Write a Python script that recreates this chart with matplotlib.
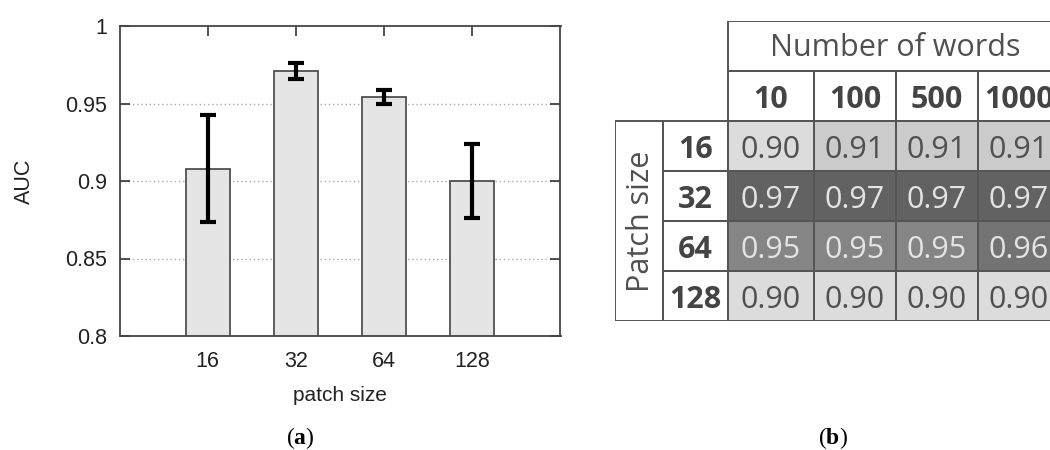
import matplotlib
matplotlib.use("Agg")
import matplotlib.pyplot as plt
import numpy as np
from matplotlib.colors import LinearSegmentedColormap
from matplotlib.patches import Rectangle

# ---- data -------------------------------------------------------------
patch_labels = ["16", "32", "64", "128"]
auc_mean = [0.908, 0.971, 0.954, 0.900]
auc_err = [0.0345, 0.005, 0.0045, 0.0237]

word_counts = ["10", "100", "500", "1000"]
auc_table = np.array([
    [0.90, 0.91, 0.91, 0.91],
    [0.97, 0.97, 0.97, 0.97],
    [0.95, 0.95, 0.95, 0.96],
    [0.90, 0.90, 0.90, 0.90],
])

plt.rcParams["font.family"] = "Liberation Sans"
plt.rcParams["mathtext.fontset"] = "custom"
plt.rcParams["mathtext.rm"] = "Liberation Serif"
plt.rcParams["mathtext.bf"] = "Liberation Serif:bold"

W, H = 1050, 450
fig = plt.figure(figsize=(W / 100, H / 100), dpi=100)

# ---- (a) bar chart with error bars -----------------------------------
ax = fig.add_axes([119.5 / W, 1 - 336 / H, 441 / W, 310 / H])
x = np.arange(1, len(patch_labels) + 1)
ax.bar(x, auc_mean, width=0.5, color="#e5e5e5", edgecolor="#505050",
       linewidth=1.3, zorder=2)
ax.errorbar(x, auc_mean, yerr=auc_err, fmt="none", ecolor="black",
            elinewidth=3, capsize=6, capthick=3, zorder=3)
ax.set_xlim(0, 5)
ax.set_ylim(0.8, 1.0)
ax.set_yticks([0.8, 0.85, 0.9, 0.95, 1.0])
ax.set_yticklabels(["0.8", "0.85", "0.9", "0.95", "1"])
ax.set_xticks(x)
ax.set_xticklabels(patch_labels)
for yv in [0.85, 0.9, 0.95]:
    ax.axhline(yv, color="#aaaaaa", linestyle=(0, (1, 2)), linewidth=1.0,
               zorder=1)
ax.tick_params(axis="y", direction="in", length=7.5, width=1.2,
               color="#333333", left=True, right=True, pad=9,
               labelsize=15.5, labelcolor="#222222")
ax.tick_params(axis="x", direction="in", length=7, width=1.2,
               color="#333333", bottom=False, top=True, labelbottom=True,
               pad=11, labelsize=15.5, labelcolor="#222222")
for s in ax.spines.values():
    s.set_color("#444444")
    s.set_linewidth(1.3)
ax.set_xlabel("patch size", fontsize=15, color="#222222", labelpad=10)
ax.set_ylabel("AUC", fontsize=15.5, color="#222222", labelpad=22)

# ---- (b) table of AUC by patch size and vocabulary size --------------
ob = "Open Sans"
tx0, ty0 = 615, 21
tw, th = 445, 300
tax = fig.add_axes([tx0 / W, 1 - (ty0 + th) / H, tw / W, th / H])
tax.set_xlim(0, tw)
tax.set_ylim(th, 0)
tax.axis("off")

col_edges = np.array([113, 199, 281, 363, 445])
row_edges = np.array([100, 150, 200, 250, 300])
cmap = LinearSegmentedColormap.from_list("g", ["#dcdcdc", "#626262"])
line_c = "#555555"
lw = 1.4
dy = 4  # optical centring of digits
tax.pcolormesh(col_edges, row_edges, auc_table, cmap=cmap, vmin=0.90,
               vmax=0.97, edgecolors=line_c, linewidth=lw)

for i in range(auc_table.shape[0]):
    for j in range(auc_table.shape[1]):
        v = auc_table[i, j]
        cx = (col_edges[j] + col_edges[j + 1]) / 2
        cy = (row_edges[i] + row_edges[i + 1]) / 2
        tax.text(cx, cy + dy, f"{v:.2f}", ha="center", va="center",
                 fontsize=22, family=ob,
                 color="#e4e4e4" if v >= 0.95 else "#505050")

# header: "Number of words"
tax.add_patch(Rectangle((col_edges[0], 0), col_edges[-1] - col_edges[0], 50,
                        fill=False, edgecolor=line_c, linewidth=lw))
tax.text(280, 27, "Number of words", ha="center", va="center",
         fontsize=22, family=ob, color="#505050")
# column headers
for j, lab in enumerate(word_counts):
    tax.add_patch(Rectangle((col_edges[j], 50), col_edges[j + 1] - col_edges[j],
                            50, fill=False, edgecolor=line_c, linewidth=lw))
    tax.text((col_edges[j] + col_edges[j + 1]) / 2, 75 + dy, lab,
             ha="center", va="center", fontsize=22, family=ob,
             weight="bold", color="#444444")
# row headers
for i, lab in enumerate(patch_labels):
    tax.add_patch(Rectangle((48, row_edges[i]), 65, 50, fill=False,
                            edgecolor=line_c, linewidth=lw))
    tax.text(80.5, (row_edges[i] + row_edges[i + 1]) / 2 + dy, lab,
             ha="center", va="center", fontsize=22, family=ob,
             weight="bold", color="#444444")
tax.add_patch(Rectangle((0, 100), 48, 200, fill=False, edgecolor=line_c,
                        linewidth=lw))
tax.text(26, 200, "Patch size", rotation=90, ha="center", va="center",
         fontsize=22, family=ob, color="#505050")

# ---- panel captions ---------------------------------------------------
serif = "Liberation Serif"
fig.text(300 / W, 1 - 438 / H, r"($\mathbf{a}$)", ha="center", va="center",
         fontsize=17, family=serif)
fig.text(833 / W, 1 - 438 / H, r"($\mathbf{b}$)", ha="center", va="center",
         fontsize=17, family=serif)

fig.savefig("out.png", dpi=100)
